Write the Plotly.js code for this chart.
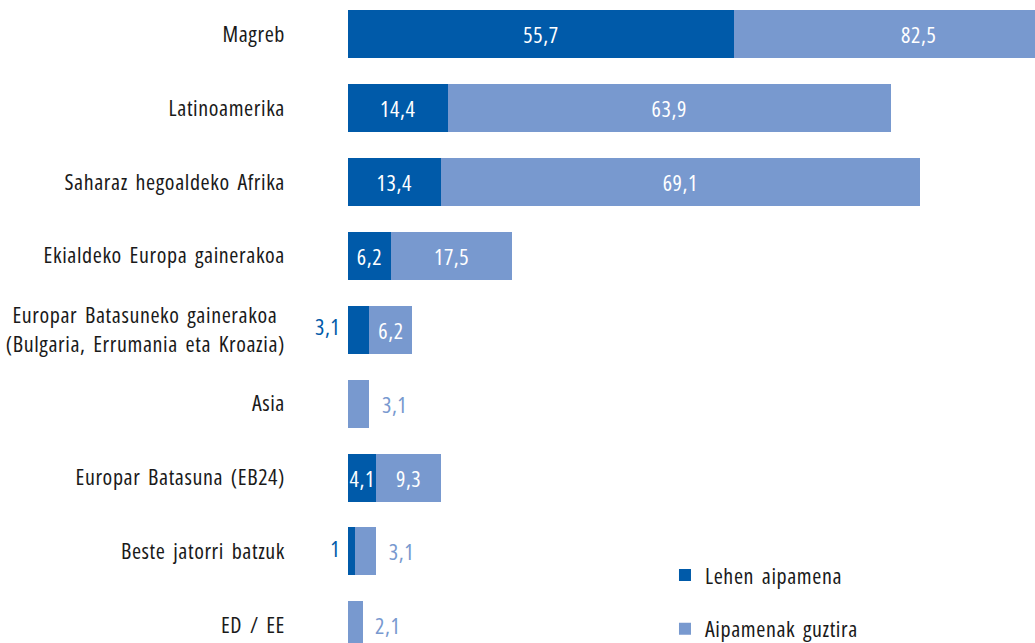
<!DOCTYPE html>
<html>
<head>
<meta charset="utf-8">
<script src="https://cdn.plot.ly/plotly-3.0.1.min.js"></script>
<style>
  html, body { margin: 0; padding: 0; overflow: hidden; background: #fff; }
  #chart { width: 1102px; height: 643px; }
  #chart text { font-stretch: 75% !important; letter-spacing: 0.6px; word-spacing: 3px; }
</style>
</head>
<body>
<div id="chart"></div>
<script>
const categories = [
  "Magreb",
  "Latinoamerika",
  "Saharaz hegoaldeko Afrika",
  "Ekialdeko Europa gainerakoa",
  "Europar Batasuneko gainerakoa <br>(Bulgaria, Errumania eta Kroazia)",
  "Asia",
  "Europar Batasuna (EB24)",
  "Beste jatorri batzuk",
  "ED / EE"
];
const lehenAipamena = [55.7, 14.4, 13.4, 6.2, 3.1, null, 4.1, 1, null];
const aipamenakGuztira = [82.5, 63.9, 69.1, 17.5, 6.2, 3.1, 9.3, 3.1, 2.1];
const seriesNames = ["Lehen aipamena", "Aipamenak guztira"];

const DARK = "#005aa9";
const LIGHT = "#7899cf";
const FONT = "Open Sans, DejaVu Sans Condensed, sans-serif";
const FS = 22;
const SMALL = 4;       // values under this get their label outside the bar
const XMAX = 108.8;    // visible x range (the chart is cropped on the right)

const fmt = v => (v === null ? "" : String(v).replace(".", ","));
const NB = "\u00a0";

const base = lehenAipamena.map(v => v || 0);
const overflow = aipamenakGuztira.map((v, i) => base[i] + v > XMAX);

const darkInside = lehenAipamena.map(v => (v !== null && v >= SMALL ? fmt(v) : ""));
const darkOutside = lehenAipamena.map(v => (v !== null && v < SMALL ? fmt(v) + NB : ""));
const lightText = aipamenakGuztira.map((v, i) =>
  overflow[i] ? "" : (v < SMALL ? NB + fmt(v) : fmt(v)));
const lightPos = aipamenakGuztira.map(v => (v < SMALL ? "outside" : "inside"));

const traces = [
  {
    type: "bar", orientation: "h", name: seriesNames[0], legendgroup: "a",
    y: categories, x: lehenAipamena,
    marker: { color: DARK, line: { width: 0 } },
    text: darkInside, textposition: "inside", insidetextanchor: "middle",
    constraintext: "none", textangle: 0,
    insidetextfont: { color: "#ffffff", size: FS, family: FONT },
    hoverinfo: "x+y"
  },
  {
    type: "bar", orientation: "h", name: seriesNames[1], legendgroup: "b",
    y: categories, x: aipamenakGuztira,
    marker: { color: LIGHT, line: { width: 0 } },
    text: lightText, textposition: lightPos, insidetextanchor: "middle",
    constraintext: "none", textangle: 0,
    insidetextfont: { color: "#ffffff", size: FS, family: FONT },
    outsidetextfont: { color: LIGHT, size: FS, family: FONT },
    hoverinfo: "x+y"
  },
  {
    type: "scatter", mode: "text", showlegend: false, hoverinfo: "skip",
    y: categories, x: lehenAipamena.map(v => (v !== null && v < SMALL ? 0 : null)),
    text: darkOutside, textposition: "middle left",
    textfont: { color: DARK, size: FS, family: FONT },
    cliponaxis: false
  }
];

const annotations = [];
aipamenakGuztira.forEach((v, i) => {
  if (overflow[i]) {
    annotations.push({
      x: (base[i] + XMAX) / 2, y: categories[i], xref: "x", yref: "y",
      text: fmt(v), showarrow: false,
      font: { color: "#ffffff", size: FS, family: FONT }
    });
  }
});

const layout = {
  width: 1102, height: 643,
  margin: { l: 348, r: 0, t: 0, b: 0, pad: 0, autoexpand: false },
  paper_bgcolor: "#ffffff", plot_bgcolor: "#ffffff",
  barmode: "stack", bargap: 0.351,
  font: { family: FONT, size: FS, color: "#1a1a1a" },
  showlegend: true,
  legend: {
    x: 0.4204, xanchor: "left", y: 0.138, yanchor: "top",
    traceorder: "grouped", tracegroupgap: 22,
    font: { family: FONT, size: FS, color: "#1a1a1a" },
    bgcolor: "rgba(0,0,0,0)"
  },
  annotations: annotations,
  xaxis: {
    range: [0, XMAX], showgrid: false, zeroline: false, showline: false,
    showticklabels: false, ticks: "", automargin: false
  },
  yaxis: {
    type: "category", range: [8.238, -0.46], showgrid: false, zeroline: false,
    showline: false, ticks: "", ticklabelstandoff: 62, automargin: false,
    tickfont: { family: FONT, size: FS, color: "#1a1a1a" }
  }
};

Plotly.newPlot("chart", traces, layout, { displayModeBar: false, staticPlot: true });
</script>
</body>
</html>
